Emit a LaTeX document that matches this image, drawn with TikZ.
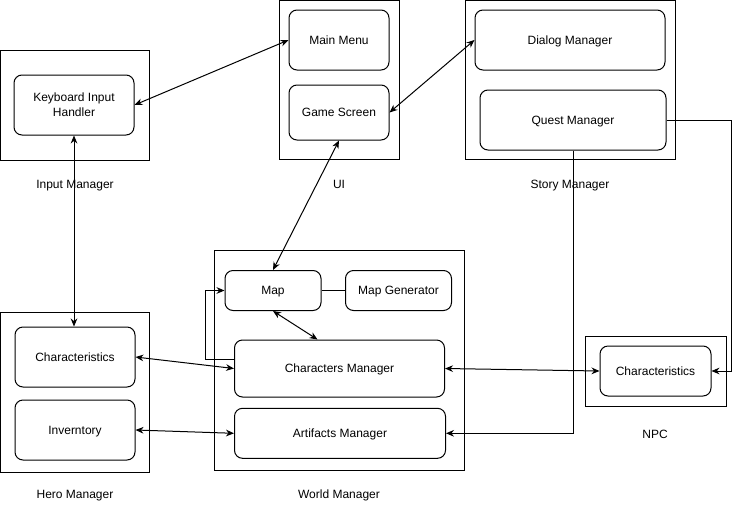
\documentclass[tikz,border=0pt]{standalone}
\usepackage{fontspec}
\setmainfont{Liberation Sans}
\usetikzlibrary{arrows.meta,calc}
\tikzset{
  frame/.style={draw=black, line width=0.75pt, inner sep=0pt},
  rbox/.style={draw=black, line width=0.75pt, rounded corners=6pt, inner sep=0pt, align=center, font=\fontsize{9}{11.25}\selectfont, text height=6.6pt, text depth=0pt},
  lbl/.style={font=\fontsize{9}{11}\selectfont, inner sep=0pt, text height=6.6pt, text depth=0pt},
  conn/.style={draw=black, line width=0.75pt},
  biarr/.style={conn, {Stealth[length=6pt,width=5pt]}-{Stealth[length=6pt,width=5pt]}},
  arr/.style={conn, -{Stealth[length=6pt,width=5pt]}},
}
\begin{document}
\begin{tikzpicture}[x=0.75pt,y=-0.75pt]
\useasboundingbox (0,0) rectangle (739,511);
\fill[white] (0,0) rectangle (739,511);

% containers
\node[frame, minimum width=111.75pt, minimum height=82.5pt] (inmgr) at (75.25,105) {};
\node[frame, minimum width=90pt, minimum height=119.6pt] (ui) at (339,80.25) {};
\node[frame, minimum width=157.5pt, minimum height=119.6pt] (story) at (570,80.25) {};
\node[frame, minimum width=187.5pt, minimum height=165pt] (world) at (339,360) {};
\node[frame, minimum width=111.75pt, minimum height=120pt] (hero) at (75.25,392) {};
\node[frame, minimum width=105.75pt, minimum height=52.5pt] (npc) at (655.5,371) {};

% inner boxes
\node[rbox, minimum width=90pt, minimum height=45pt, text height=17.2pt] (kih) at (74,105) {Keyboard Input\\Handler};
\node[rbox, minimum width=75pt, minimum height=45pt] (mainmenu) at (339,40) {Main Menu};
\node[rbox, minimum width=75pt, minimum height=41.25pt] (gamescreen) at (339,112.5) {Game Screen};
\node[rbox, minimum width=142.5pt, minimum height=45pt] (dialog) at (570,40) {Dialog Manager};
\node[rbox, minimum width=139.5pt, minimum height=45pt] (quest) at (573,120) {Quest Manager};
\node[rbox, minimum width=72pt, minimum height=30pt] (map) at (273,290.5) {Map};
\node[rbox, minimum width=79.5pt, minimum height=30pt] (mapgen) at (398.5,290.5) {Map Generator};
\node[rbox, minimum width=157.5pt, minimum height=42.75pt] (charmgr) at (339.5,368.5) {Characters Manager};
\node[rbox, minimum width=158.25pt, minimum height=37.5pt] (artmgr) at (340,433.3) {Artifacts Manager};
\node[rbox, minimum width=90pt, minimum height=45pt] (hchar) at (75,357) {Characteristics};
\node[rbox, minimum width=90pt, minimum height=45pt] (inv) at (75,430) {Inverntory};
\node[rbox, minimum width=83.25pt, minimum height=37.5pt] (nchar) at (655.5,371) {Characteristics};

% labels
\node[lbl] (linput) at (75,184) {Input Manager};
\node[lbl] (lui) at (339,184) {UI};
\node[lbl] (lstory) at (570,184) {Story Manager};
\node[lbl] (lworld) at (339,494) {World Manager};
\node[lbl] (lhero) at (75,494) {Hero Manager};
\node[lbl] (lnpc) at (655,434) {NPC};

% connectors
\draw[biarr] (kih.east) -- (mainmenu.west);
\draw[biarr] (gamescreen.east) -- (dialog.west);
\draw[biarr] (gamescreen.south) -- (map.north);
\draw[biarr] (kih.south) -- (kih.south |- hchar.north);
\draw[biarr] (map.south) -- ([xshift=-16.5pt]charmgr.north);
\draw[conn] (map.east) -- (mapgen.west);
\draw[arr] ([yshift=7.1pt]charmgr.west) -- ++(-28.5,0) |- (map.west);
\draw[biarr] (hchar.east) -- (charmgr.west);
\draw[biarr] (inv.east) -- (artmgr.west);
\draw[biarr] (charmgr.east) -- (nchar.west);
\draw[arr] (quest.east) -- ++(65,0) |- (nchar.east);
\draw[arr] (quest.south) |- (artmgr.east);
\end{tikzpicture}
\end{document}
